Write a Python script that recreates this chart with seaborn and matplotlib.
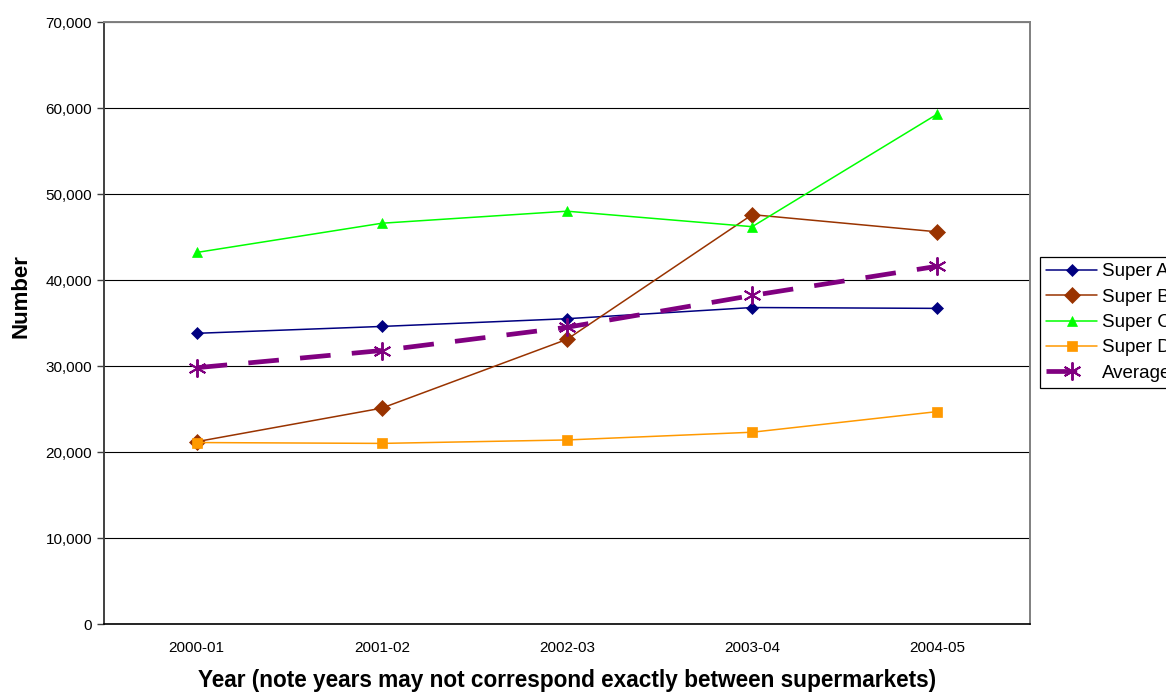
import matplotlib
matplotlib.use("Agg")
import matplotlib.pyplot as plt
import matplotlib.ticker as mticker
import numpy as np
import pandas as pd
import seaborn as sns

# Annual figures per supermarket
years = ["2000-01", "2001-02", "2002-03", "2003-04", "2004-05"]
super_a = [33800, 34600, 35500, 36800, 36700]
super_b = [21200, 25100, 33100, 47600, 45600]
super_c = [43200, 46600, 48000, 46200, 59300]
super_d = [21100, 21000, 21400, 22300, 24700]
average = [29800, 31800, 34500, 38200, 41600]

series_names = ["Super A", "Super B", "Super C", "Super D", "Average"]
series_values = [super_a, super_b, super_c, super_d, average]

sns.set_theme(style="white")
plt.rcParams["font.family"] = ["Liberation Sans", "DejaVu Sans"]
plt.rcParams["text.color"] = "black"
plt.rcParams["axes.labelcolor"] = "black"
plt.rcParams["xtick.color"] = "black"
plt.rcParams["ytick.color"] = "black"

fig = plt.figure(figsize=(11.66, 6.93), dpi=100)
ax = fig.add_axes([104 / 1166, 1 - 624 / 693, 926 / 1166, 602 / 693])

styles = {
    "Super A": dict(color="#000080", marker="D", markersize=6.5, lw=1.1),
    "Super B": dict(color="#993300", marker="D", markersize=8.5, lw=1.1),
    "Super C": dict(color="#00FF00", marker="^", markersize=7.5, lw=1.1),
    "Super D": dict(color="#FF9900", marker="s", markersize=6.5, lw=1.1),
}

x_pos = np.arange(len(years))
for name, vals in zip(series_names, series_values):
    df = pd.DataFrame({"x": x_pos, "y": vals})
    if name == "Average":
        sns.lineplot(data=df, x="x", y="y", ax=ax, color="#800080", lw=3.4,
                     marker=(6, 2, 0), markersize=13, markeredgewidth=1.4,
                     markeredgecolor="#800080", label=name, zorder=4,
                     dashes=False)
        ax.lines[-1].set_dashes([6.5, 4.5])
    else:
        st = styles[name]
        sns.lineplot(data=df, x="x", y="y", ax=ax, color=st["color"], lw=st["lw"],
                     marker=st["marker"], markersize=st["markersize"],
                     markeredgecolor=st["color"], markeredgewidth=0.5,
                     label=name, zorder=3)

ax.set_xlim(-0.5, len(years) - 0.5)
ax.set_ylim(0, 70000)
ax.yaxis.set_major_locator(mticker.MultipleLocator(10000))
ax.yaxis.set_major_formatter(mticker.FuncFormatter(lambda v, p: f"{int(v):,}"))
ax.set_xticks(x_pos)
ax.set_xticklabels(years)
ax.set_xticks(np.arange(-0.5, len(years), 1.0), minor=True)
ax.tick_params(axis="x", which="major", length=0, pad=12, labelsize=11, labelcolor="black")
ax.tick_params(axis="x", which="minor", length=5, width=1, color="black", direction="out")
ax.tick_params(axis="y", which="major", length=5, width=1, color="#404040",
               direction="out", labelsize=11, labelcolor="black", pad=3.5)
ax.tick_params(left=True, bottom=True)

ax.grid(axis="y", color="black", lw=0.8, zorder=0)
ax.set_axisbelow(True)
for side in ["top", "right"]:
    ax.spines[side].set_color("#808080")
    ax.spines[side].set_linewidth(1.4)
ax.spines["left"].set_color("#404040")
ax.spines["left"].set_linewidth(1.4)
ax.spines["bottom"].set_color("black")
ax.spines["bottom"].set_linewidth(1.2)

ax.set_xlabel("Year (note years may not correspond exactly between supermarkets)",
              fontsize=16.3, fontweight="bold", labelpad=10, color="black")
ax.set_ylabel("Number", fontsize=16, fontweight="bold", color="black")
ax.yaxis.set_label_coords(-0.078, 0.545)

leg = ax.legend(loc="upper left", bbox_to_anchor=(1040 / 1166, 1 - 257 / 693),
                bbox_transform=fig.transFigure, frameon=True, fancybox=False,
                edgecolor="black", framealpha=1, fontsize=13.5, handlelength=2.72,
                handletextpad=0.27, labelspacing=0.44, borderpad=0.33,
                borderaxespad=0, numpoints=1)
leg.get_frame().set_linewidth(0.9)
for t in leg.get_texts():
    t.set_color("black")

fig.savefig("out.png", dpi=100)
